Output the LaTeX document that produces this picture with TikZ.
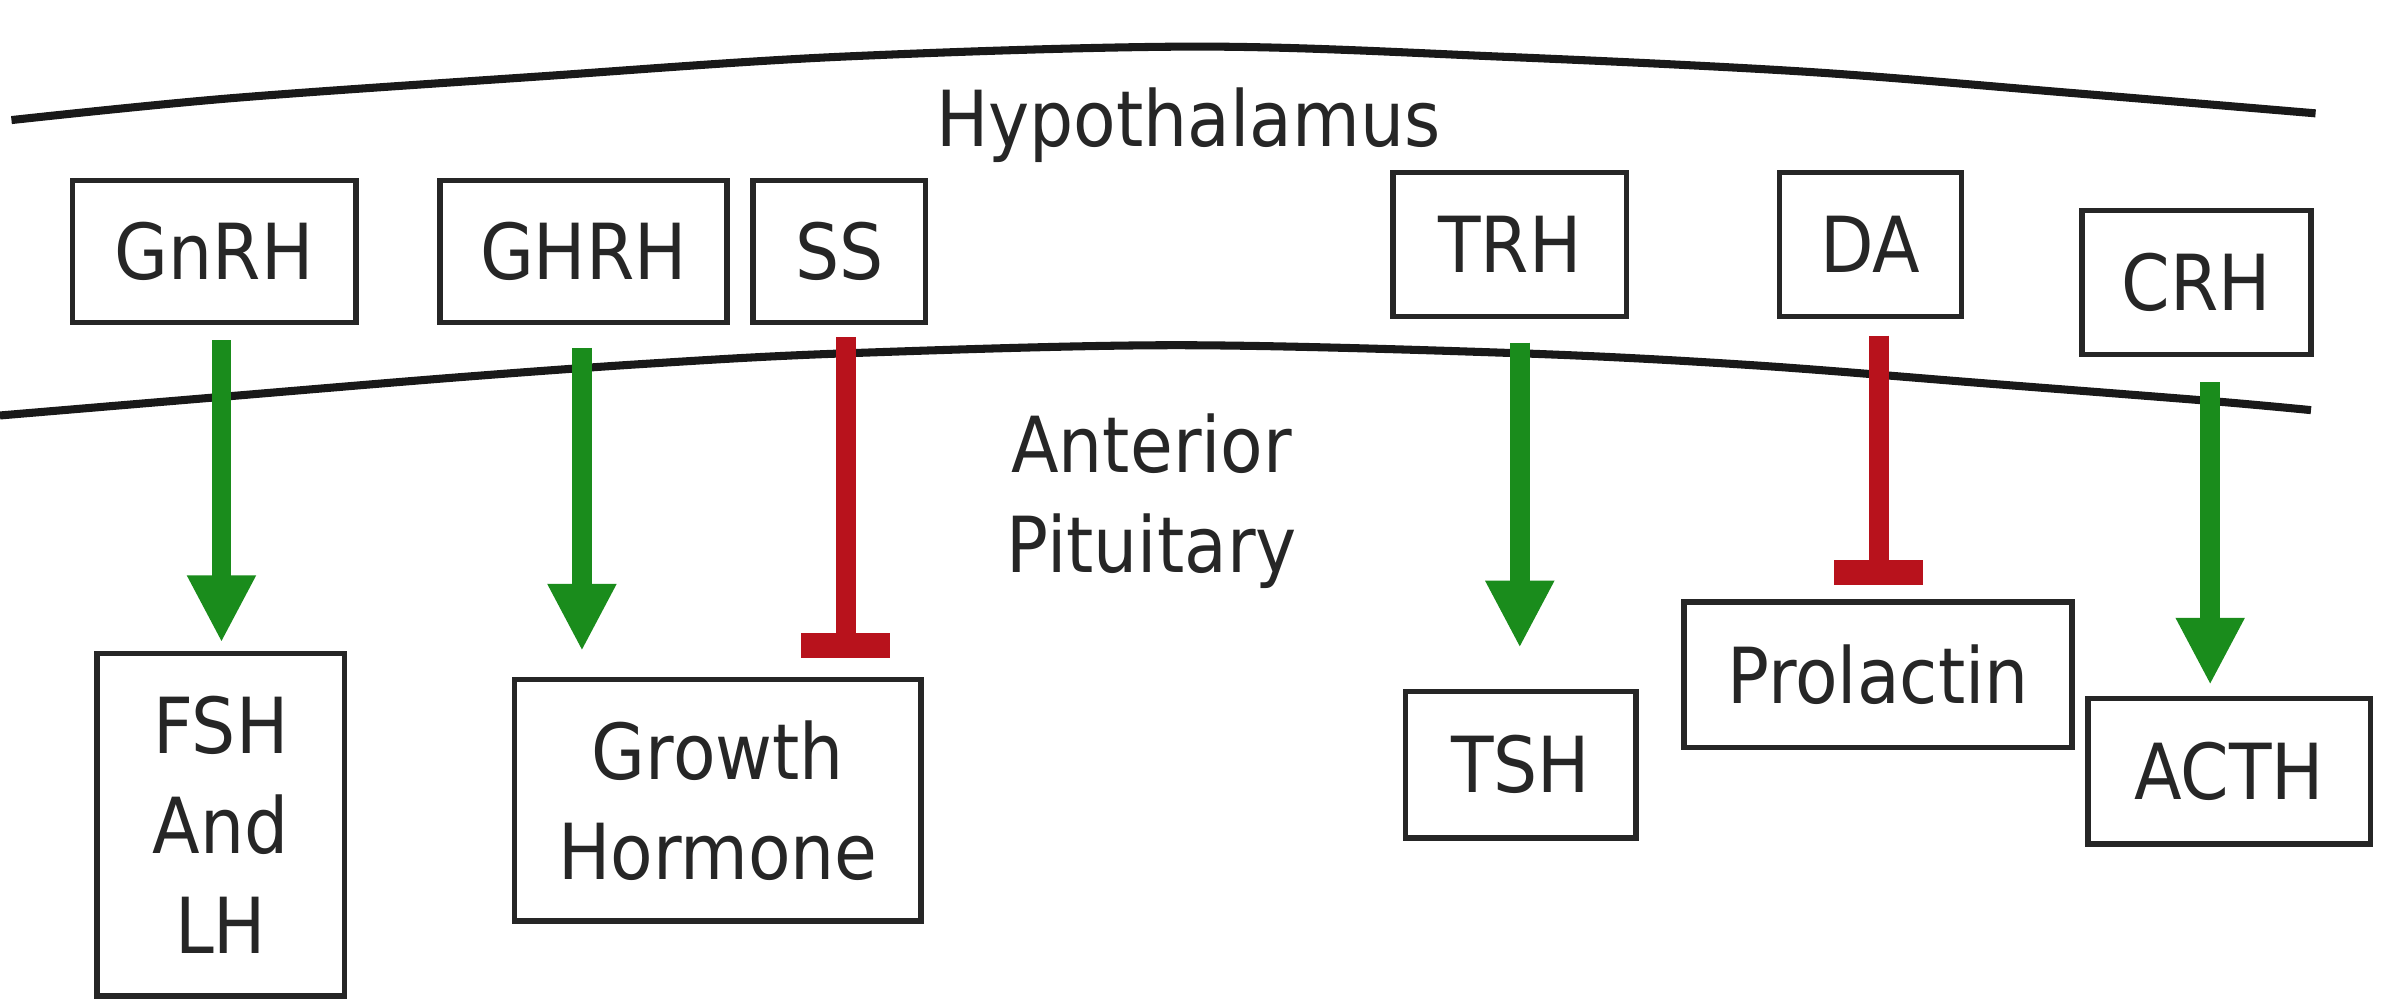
\documentclass[tikz,border=0pt]{standalone}
\usepackage{fontspec}
\setmainfont{DejaVu Sans}[FakeStretch=0.9]
\usetikzlibrary{arrows.meta,calc}
\definecolor{actgreen}{RGB}{26,140,28}
\definecolor{inhred}{RGB}{184,18,28}
\definecolor{ink}{RGB}{38,38,38}
\begin{document}
\begin{tikzpicture}[x=0.1mm,y=-0.1mm,
  every node/.style={font=\fontsize{14.4}{18.6}\selectfont, text=ink},
  box/.style={draw=ink, line width=1pt, inner sep=0pt, align=center, minimum height=9.4mm},
  layer/.style={line width=1.5pt, black!90},
  act/.style={actgreen, line width=1.3mm, -{Triangle[width=4.2mm,length=4.4mm]}},
  inh/.style={inhred, line width=1.3mm, -{Rectangle[width=5.8mm,length=1.6mm]}},
  lbl/.style={align=center}]
\useasboundingbox (0,0) rectangle (1568,654);
\fill[white] (0,0) rectangle (1568,654);
% layers
\draw[layer] plot[smooth, tension=0.55] coordinates {(7.5,78.6) (150,64.4) (351,50.2) (551,37.1) (785,30.5) (983,37.1) (1183,47) (1358,61) (1516,74.2)};
\draw[layer] plot[smooth, tension=0.55] coordinates {(0,272) (143,260) (300,247) (425.6,238) (554,231.3) (770,226) (995,231.3) (1146,239) (1300,251) (1447,262.5) (1513,268.5)};
% labels
\node[lbl] (hyp) at (778,82) {Hypothalamus};
\node[lbl] (ant) at (754,328) {Anterior\\Pituitary};
% hypothalamic hormones
\node[box, minimum width=18.54mm, minimum height=9.3mm] (gnrh) at (140.3,164.5) {GnRH};
\node[box, minimum width=18.8mm, minimum height=9.3mm] (ghrh) at (382,164.5) {GHRH};
\node[box, minimum width=11.3mm, minimum height=9.3mm] (ss) at (549.5,164.5) {SS};
\node[box, minimum width=15.3mm] (trh) at (988.5,160) {TRH};
\node[box, minimum width=11.9mm] (da) at (1224.5,160) {DA};
\node[box, minimum width=15mm] (crh) at (1438,185) {CRH};
% pituitary hormones
\node[box, minimum width=16.2mm, minimum height=22.4mm] (fsh) at (144.5,540) {FSH\\And\\LH};
\node[box, minimum width=26.6mm, minimum height=15.8mm] (gh) at (470,524) {Growth\\Hormone};
\node[box, minimum width=15.1mm, minimum height=9.6mm] (tsh) at (995.5,500.7) {TSH};
\node[box, minimum width=25.4mm, minimum height=9.5mm] (prl) at (1229.6,441.7) {Prolactin};
\node[box, minimum width=18.5mm, minimum height=9.5mm] (acth) at (1459.5,505) {ACTH};
% connector columns
\coordinate (c1) at (145,0);
\coordinate (c2) at (381,0);
\coordinate (c3) at (553.6,0);
\coordinate (c4) at (995,0);
\coordinate (c5) at (1230,0);
\coordinate (c6) at (1447,0);
% connectors
\draw[act] ($(c1 |- gnrh.south)+(0,10)$) -- ($(c1 |- fsh.north)+(0,-5.6)$);
\draw[act] ($(c2 |- ghrh.south)+(0,15)$) -- ($(c2 |- gh.north)+(0,-17)$);
\draw[inh] ($(c3 |- ss.south)+(0,8)$) -- ($(c3 |- gh.north)+(0,-12.7)$);
\draw[act] ($(c4 |- trh.south)+(0,15.5)$) -- ($(c4 |- tsh.north)+(0,-26.8)$);
\draw[inh] ($(c5 |- da.south)+(0,11)$) -- ($(c5 |- prl.north)+(0,-9.5)$);
\draw[act] ($(c6 |- crh.south)+(0,16.6)$) -- ($(c6 |- acth.north)+(0,-7.3)$);
\end{tikzpicture}
\end{document}
